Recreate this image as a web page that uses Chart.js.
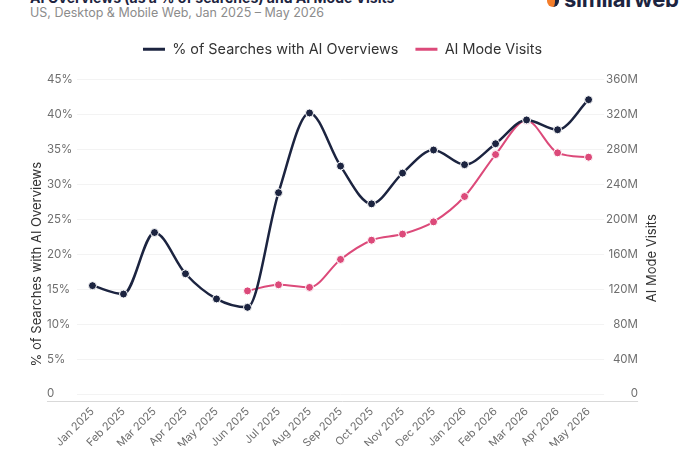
<!DOCTYPE html>
<html>
<head>
<meta charset="utf-8">
<script src="https://cdn.jsdelivr.net/npm/chart.js@4.4.1/dist/chart.umd.min.js"></script>
<style>
  body { margin: 0; background: #fff; font-family: Inter, "Noto Sans", sans-serif; }
  #wrap { position: relative; width: 679px; height: 450px; overflow: hidden; }
  #title { position: absolute; left: 30px; top: -11px; font-size: 14px; font-weight: 700; color: #1c2440; white-space: nowrap; }
  #subtitle { position: absolute; left: 30px; top: 5px; font-size: 12.5px; color: #8c8c8c; white-space: nowrap; }
  #logo { position: absolute; left: 547px; top: -14px; font-size: 22px; font-weight: 700; color: #1c2440; white-space: nowrap; letter-spacing: -0.3px; }
  #logo i { display: inline-block; width: 12px; height: 12px; border-radius: 50%; background: #f47e2b; margin-right: 5px; border-right: 4px solid #1c2440; box-sizing: border-box; }
  canvas { position: absolute; left: 0; top: 0; }
</style>
</head>
<body>
<div id="wrap">
  <div id="title">AI Overviews (as a % of searches) and AI Mode Visits</div>
  <div id="subtitle">US, Desktop &amp; Mobile Web, Jan 2025 – May 2026</div>
  <div id="logo"><i></i>similarweb</div>
  <canvas id="canvas" width="679" height="450"></canvas>
</div>
<script>
// months on the x axis
var months = ["Jan 2025", "Feb 2025", "Mar 2025", "Apr 2025", "May 2025", "Jun 2025",
  "Jul 2025", "Aug 2025", "Sep 2025", "Oct 2025", "Nov 2025", "Dec 2025",
  "Jan 2026", "Feb 2026", "Mar 2026", "Apr 2026", "May 2026"];

// % of searches with AI Overviews
var aiOverviews = [15.5, 14.3, 23.1, 17.2, 13.6, 12.4, 28.8, 40.2, 32.6, 27.2,
  31.6, 34.9, 32.8, 35.8, 39.2, 37.8, 42.1];

// AI Mode visits, millions (starts Jun 2025)
var aiModeVisits = [null, null, null, null, null, 118, 125, 122, 154, 176,
  183, 197, 226, 274, 313, 276, 271];

// tick labels
var pctTicks = [0, 5, 10, 15, 20, 25, 30, 35, 40, 45];
var visitTicks = [0, 40, 80, 120, 160, 200, 240, 280, 320, 360];

var navy = "#1c2440";
var pink = "#dc4a7a";
var tickColor = "#6e6e6e";

var legendGap = {
  id: 'legendGap',
  beforeInit: function (chart) {
    var fit = chart.legend.fit;
    chart.legend.fit = function () {
      fit.bind(chart.legend)();
      this.height += 13;
    };
  }
};

// bottom rule and the two axis titles
var extras = {
  id: 'extras',
  afterDatasetsDraw: function (chart) {
    var c = chart.ctx, a = chart.chartArea;
    var midY = (a.top + a.bottom) / 2;
    c.save();
    c.strokeStyle = "#d9d9d9";
    c.lineWidth = 1;
    c.beginPath();
    c.moveTo(a.left - 30, a.bottom + 0.5);
    c.lineTo(a.right + 34, a.bottom + 0.5);
    c.stroke();

    c.fillStyle = "#333";
    c.font = "13px Inter";
    c.textAlign = "center";
    c.textBaseline = "middle";
    c.translate(37, midY + 24);
    c.rotate(-Math.PI / 2);
    c.fillText('% of Searches with AI Overviews', 0, 0);
    c.restore();

    c.save();
    c.fillStyle = "#333";
    c.font = "13px Inter";
    c.textAlign = "center";
    c.textBaseline = "middle";
    c.translate(652, midY + 18);
    c.rotate(-Math.PI / 2);
    c.fillText('AI Mode Visits', 0, 0);
    c.restore();
  }
};

const ctx = document.getElementById('canvas').getContext('2d');
const myChart = new Chart(ctx, {
  type: 'line',
  data: {
    labels: months,
    datasets: [{
      label: '% of Searches with AI Overviews',
      data: aiOverviews,
      yAxisID: 'y',
      borderColor: navy,
      backgroundColor: navy,
      borderWidth: 2.5,
      cubicInterpolationMode: 'monotone',
      pointRadius: 4,
      pointBackgroundColor: navy,
      pointBorderColor: "#fff",
      pointBorderWidth: 1
    }, {
      label: 'AI Mode Visits',
      data: aiModeVisits,
      yAxisID: 'y1',
      borderColor: pink,
      backgroundColor: pink,
      borderWidth: 2,
      cubicInterpolationMode: 'monotone',
      pointRadius: 4,
      pointBackgroundColor: pink,
      pointBorderColor: "#fff",
      pointBorderWidth: 1
    }]
  },
  plugins: [legendGap, extras],
  options: {
    responsive: false,
    animation: false,
    layout: { padding: { top: 25, left: 47, right: 41, bottom: 4 } },
    plugins: {
      legend: {
        position: 'top',
        labels: {
          font: { family: 'Inter', size: 14.4 },
          color: '#333',
          boxWidth: 22,
          boxHeight: 3,
          padding: 17,
          generateLabels: function (chart) {
            return Chart.defaults.plugins.legend.labels.generateLabels(chart).map(function (l) {
              l.lineWidth = 0;
              return l;
            });
          }
        }
      },
      tooltip: { enabled: false }
    },
    scales: {
      x: {
        offset: true,
        grid: { display: false, drawTicks: false },
        border: { display: false },
        afterFit: function (axis) { axis.height = 45; },
        ticks: {
          color: tickColor,
          font: { family: 'Inter', size: 11 },
          minRotation: 45,
          maxRotation: 45,
          padding: 4
        }
      },
      y: {
        position: 'left',
        min: -1,
        max: 45,
        afterBuildTicks: function (axis) {
          axis.ticks = pctTicks.map(function (v) { return { value: v }; });
        },
        grid: { color: "#f3f3f3", drawTicks: false },
        border: { display: false },
        ticks: {
          color: tickColor,
          crossAlign: 'far',
          padding: 2,
          font: { family: 'Inter', size: 11.5 },
          callback: function (v) { return v === 0 ? '0' : v + '%'; }
        }
      },
      y1: {
        position: 'right',
        min: -8,
        max: 360,
        afterBuildTicks: function (axis) {
          axis.ticks = visitTicks.map(function (v) { return { value: v }; });
        },
        grid: { display: false, drawTicks: false },
        border: { display: false },
        ticks: {
          color: tickColor,
          crossAlign: 'far',
          padding: 1,
          font: { family: 'Inter', size: 11.5 },
          callback: function (v) { return v === 0 ? '0' : v + 'M'; }
        }
      }
    }
  }
});
</script>
</body>
</html>
